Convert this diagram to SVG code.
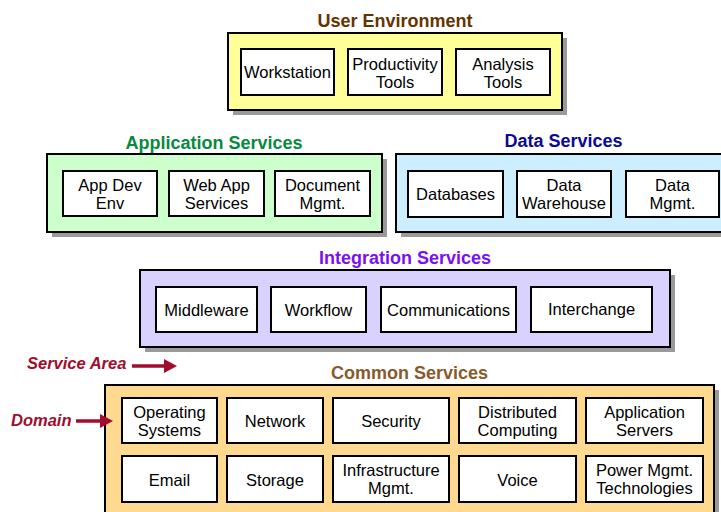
<svg xmlns="http://www.w3.org/2000/svg" width="721" height="512" viewBox="0 0 721 512">
<style>
.sh{fill:#9a9a9a}
.area{stroke:#000;stroke-width:2}
.box{fill:#fff;stroke:#000;stroke-width:2}
.t{font-family:"Liberation Sans",Arial,sans-serif;font-size:16.5px;fill:#000;text-anchor:middle}
.h{font-family:"Liberation Sans",Arial,sans-serif;font-size:18px;font-weight:bold;text-anchor:middle}
.a{font-family:"Liberation Sans",Arial,sans-serif;font-size:16.5px;font-weight:bold;font-style:italic;fill:#a00d2d}
.ar{stroke:#a00d2d;stroke-width:3.5;fill:none}
</style>
<defs>
<marker id="ah" markerWidth="14" markerHeight="14" refX="0" refY="7" orient="auto" markerUnits="userSpaceOnUse">
<path d="M0,0 L13,7 L0,14 Z" fill="#a00d2d"/>
</marker>
</defs>
<rect width="721" height="512" fill="#fff"/>

<g id="user-environment">
<rect class="sh" x="233" y="38" width="334" height="77"/>
<rect class="area" x="228" y="33" width="334" height="77" fill="#ffff99"/>
<text class="h" x="395" y="27" fill="#663300">User Environment</text>
<g id="workstation"><rect class="box" x="241" y="49" width="93" height="46"/><text class="t" x="287.5" y="78">Workstation</text></g>
<g id="productivity-tools"><rect class="box" x="348" y="49" width="94" height="46"/><text class="t" x="395" y="70">Productivity</text><text class="t" x="395" y="87.5">Tools</text></g>
<g id="analysis-tools"><rect class="box" x="456" y="49" width="94" height="46"/><text class="t" x="503" y="70">Analysis</text><text class="t" x="503" y="87.5">Tools</text></g>
</g>

<g id="application-services">
<rect class="sh" x="52" y="159" width="335" height="78"/>
<rect class="area" x="47" y="154" width="335" height="78" fill="#ccffcc"/>
<text class="h" x="214" y="149" fill="#078a3e">Application Services</text>
<g id="app-dev-env"><rect class="box" x="63" y="171" width="94" height="45"/><text class="t" x="110" y="191">App Dev</text><text class="t" x="110" y="208.5">Env</text></g>
<g id="web-app-services"><rect class="box" x="169" y="171" width="95" height="45"/><text class="t" x="216.5" y="191">Web App</text><text class="t" x="216.5" y="208.5">Services</text></g>
<g id="document-mgmt"><rect class="box" x="275" y="171" width="95" height="45"/><text class="t" x="322.5" y="191">Document</text><text class="t" x="322.5" y="208.5">Mgmt.</text></g>
</g>

<g id="data-services">
<rect class="sh" x="401" y="159" width="340" height="78"/>
<rect class="area" x="396" y="154" width="340" height="78" fill="#cceeff"/>
<text class="h" x="563.5" y="147" fill="#0a0a96">Data Services</text>
<g id="databases"><rect class="box" x="408" y="171" width="95" height="46"/><text class="t" x="455.5" y="200">Databases</text></g>
<g id="data-warehouse"><rect class="box" x="517" y="171" width="94" height="46"/><text class="t" x="564" y="191">Data</text><text class="t" x="564" y="208.5">Warehouse</text></g>
<g id="data-mgmt"><rect class="box" x="626" y="171" width="93" height="46"/><text class="t" x="672.5" y="191">Data</text><text class="t" x="672.5" y="208.5">Mgmt.</text></g>
</g>

<g id="integration-services">
<rect class="sh" x="145" y="275" width="530" height="77"/>
<rect class="area" x="140" y="270" width="530" height="77" fill="#d9d2ff"/>
<text class="h" x="405" y="264" fill="#7a10f0">Integration Services</text>
<g id="middleware"><rect class="box" x="156" y="287" width="101" height="45"/><text class="t" x="206.5" y="315.5">Middleware</text></g>
<g id="workflow"><rect class="box" x="271" y="287" width="95" height="45"/><text class="t" x="318.5" y="315.5">Workflow</text></g>
<g id="communications"><rect class="box" x="381" y="287" width="135" height="45"/><text class="t" x="448.5" y="315.5">Communications</text></g>
<g id="interchange"><rect class="box" x="531" y="287" width="121" height="45"/><text class="t" x="591.5" y="315">Interchange</text></g>
</g>

<g id="common-services">
<rect class="sh" x="110" y="390" width="609" height="140"/>
<rect class="area" x="105" y="385" width="609" height="140" fill="#ffd990"/>
<text class="h" x="409.5" y="379" fill="#8a5a2a">Common Services</text>
<g id="operating-systems"><rect class="box" x="122" y="398" width="95" height="45"/><text class="t" x="169.5" y="418">Operating</text><text class="t" x="169.5" y="435.5">Systems</text></g>
<g id="network"><rect class="box" x="227" y="398" width="96" height="45"/><text class="t" x="275" y="427">Network</text></g>
<g id="security"><rect class="box" x="333" y="398" width="116" height="45"/><text class="t" x="391" y="427">Security</text></g>
<g id="distributed-computing"><rect class="box" x="459" y="398" width="117" height="45"/><text class="t" x="517.5" y="418">Distributed</text><text class="t" x="517.5" y="435.5">Computing</text></g>
<g id="application-servers"><rect class="box" x="586" y="398" width="117" height="45"/><text class="t" x="644.5" y="418">Application</text><text class="t" x="644.5" y="435.5">Servers</text></g>
<g id="email"><rect class="box" x="122" y="456" width="95" height="46"/><text class="t" x="169.5" y="485.5">Email</text></g>
<g id="storage"><rect class="box" x="227" y="456" width="96" height="46"/><text class="t" x="275" y="485.5">Storage</text></g>
<g id="infrastructure-mgmt"><rect class="box" x="333" y="456" width="116" height="46"/><text class="t" x="391" y="476">Infrastructure</text><text class="t" x="391" y="493.5">Mgmt.</text></g>
<g id="voice"><rect class="box" x="459" y="456" width="117" height="46"/><text class="t" x="517.5" y="485.5">Voice</text></g>
<g id="power-mgmt"><rect class="box" x="586" y="456" width="117" height="46"/><text class="t" x="644.5" y="476">Power Mgmt.</text><text class="t" x="644.5" y="493.5">Technologies</text></g>
</g>

<g id="service-area-label"><text class="a" x="27" y="369">Service Area</text></g>
<g id="domain-label"><text class="a" x="11" y="426">Domain</text></g>

<g id="connectors">
<line class="ar" x1="132" y1="366" x2="164" y2="366" marker-end="url(#ah)"/>
<line class="ar" x1="76" y1="421" x2="100" y2="421" marker-end="url(#ah)"/>
</g>
</svg>
